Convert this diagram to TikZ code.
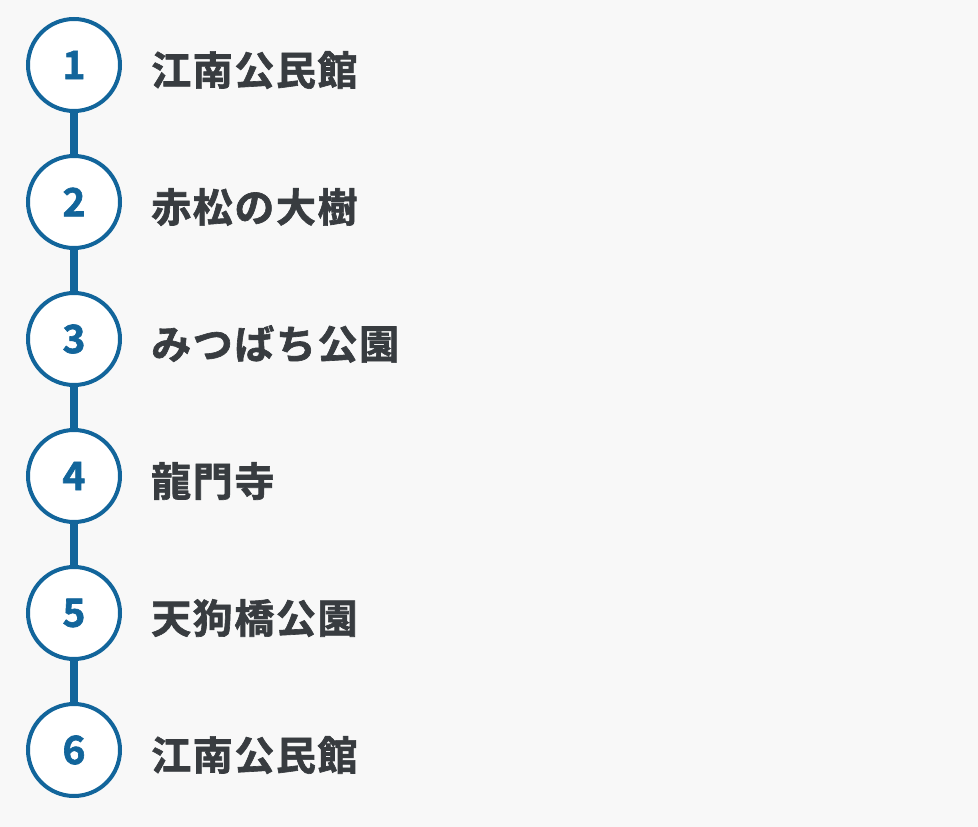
\documentclass[tikz,border=0pt]{standalone}
\usepackage{fontspec}
\newfontfamily\jpfont{Noto Sans CJK JP Bold}[FakeBold=1.6, LetterSpace=4]
\newfontfamily\numfont{Noto Sans CJK JP Bold}[FakeBold=1.6]
\usepackage{tikz}
\usetikzlibrary{positioning}
\definecolor{stepblue}{RGB}{18,101,155}
\definecolor{labelgray}{RGB}{56,60,64}
\definecolor{bggray}{RGB}{248,248,248}

\begin{document}
\begin{tikzpicture}[
  x=1pt, y=1pt,
  stop/.style={circle, draw=stepblue, line width=4pt, fill=white,
    minimum size=92pt, inner sep=0pt, text=stepblue,
    font=\numfont\fontsize{39}{40}\selectfont},
  place/.style={anchor=west, inner sep=0pt, text=labelgray,
    font=\jpfont\fontsize{40}{44}\selectfont},
  link/.style={draw=stepblue, line width=8pt}
]

% Background
\fill[bggray] (0,0) rectangle (978,-827);
\useasboundingbox (0,0) rectangle (978,-827);

% Stops
\node[stop] (s1) at (74,-65)  {1};
\node[stop] (s2) at (74,-202) {2};
\node[stop] (s3) at (74,-339) {3};
\node[stop] (s4) at (74,-476) {4};
\node[stop] (s5) at (74,-613) {5};
\node[stop] (s6) at (74,-750) {6};

% Links
\path[link] (s1.south) -- (s2.north);
\path[link] (s2.south) -- (s3.north);
\path[link] (s3.south) -- (s4.north);
\path[link] (s4.south) -- (s5.north);
\path[link] (s5.south) -- (s6.north);

% Names
\node[place, right=29pt of s1, yshift=-5pt] (n1) {江南公民館};
\node[place, right=29pt of s2, yshift=-5pt] (n2) {赤松の大樹};
\node[place, right=29pt of s3, yshift=-5pt] (n3) {みつばち公園};
\node[place, right=29pt of s4, yshift=-5pt] (n4) {龍門寺};
\node[place, right=29pt of s5, yshift=-5pt] (n5) {天狗橋公園};
\node[place, right=29pt of s6, yshift=-5pt] (n6) {江南公民館};

\end{tikzpicture}
\end{document}
